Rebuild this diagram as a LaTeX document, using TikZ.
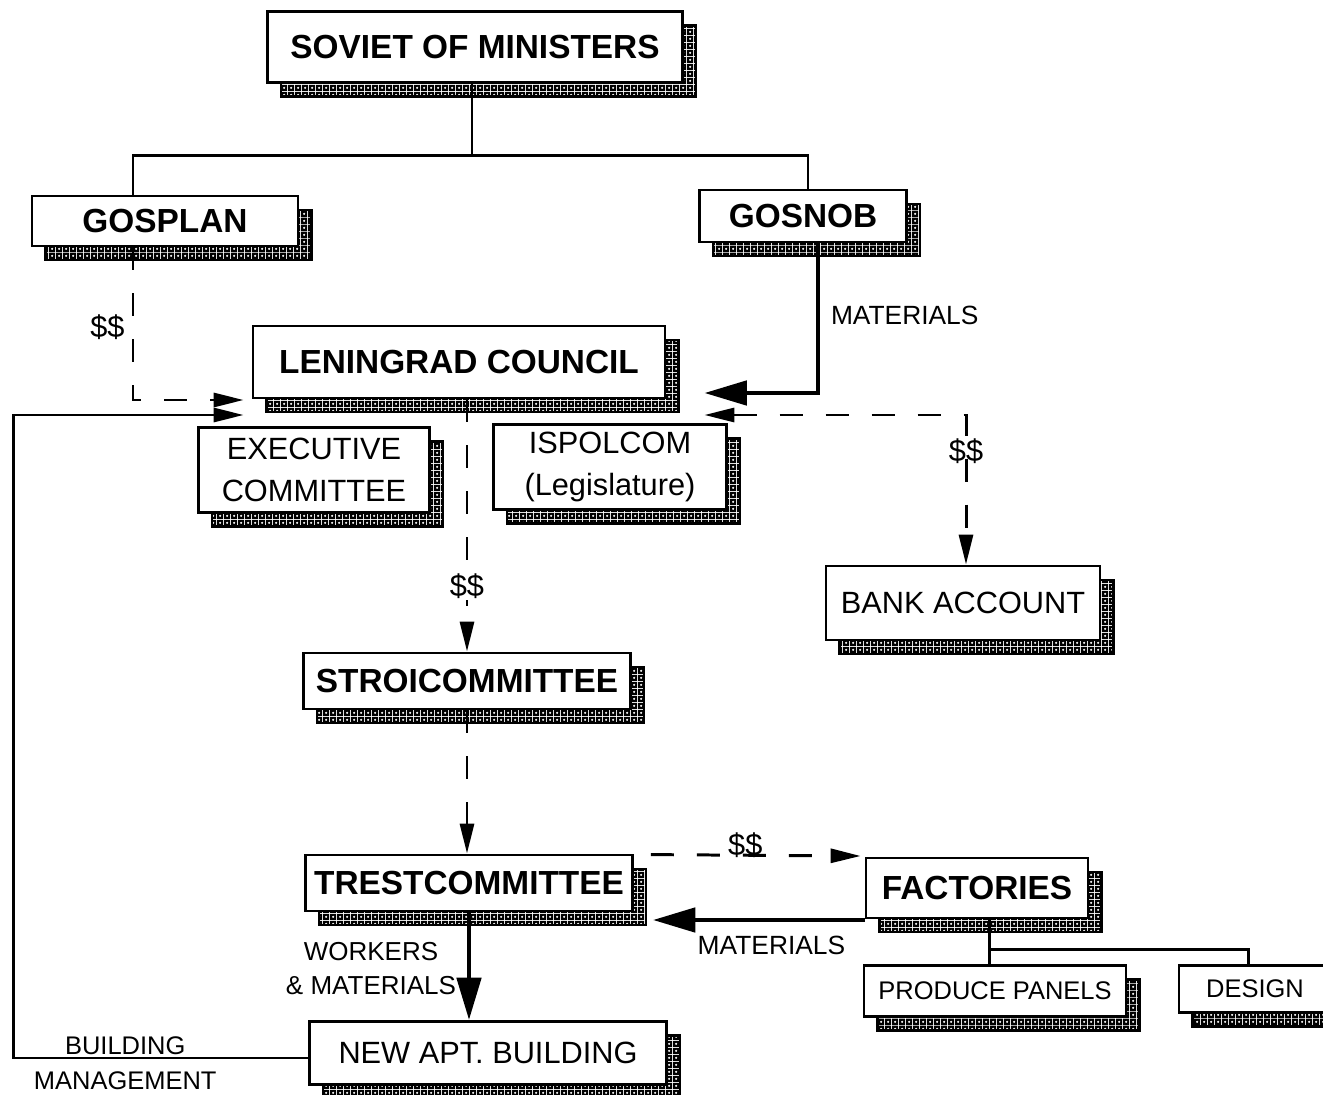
\documentclass[tikz,border=0pt]{standalone}
\usepackage{fontspec}
\setmainfont{Liberation Sans}
\usepackage{tikz}
\usetikzlibrary{positioning,calc,arrows.meta,shadows,patterns,backgrounds}

% diamond hatch for the box shadows
\pgfdeclarepatternformonly{diamond hatch}{\pgfpointorigin}{\pgfpoint{4pt}{4pt}}{\pgfpoint{4pt}{4pt}}{
    \pgfseteorule
    \pgfpathrectangle{\pgfpointorigin}{\pgfpoint{4pt}{4pt}}
    \pgfpathmoveto{\pgfpoint{2pt}{1.1pt}}
    \pgfpathlineto{\pgfpoint{2.9pt}{2pt}}
    \pgfpathlineto{\pgfpoint{2pt}{2.9pt}}
    \pgfpathlineto{\pgfpoint{1.1pt}{2pt}}
    \pgfpathclose
    \pgfusepath{fill}
}

\tikzset{
    orgbox/.style={draw, line width=1.6pt, fill=white, inner sep=0pt, align=center,
        general shadow={shadow xshift=0.27cm, shadow yshift=-0.28cm, draw, line width=1.2pt, pattern=diamond hatch}},
    headbox/.style={orgbox, font=\bfseries\fontsize{19}{22}\selectfont},
    unitbox/.style={orgbox, font=\fontsize{17.5}{24}\selectfont},
    smallbox/.style={orgbox, font=\fontsize{14.5}{17}\selectfont}
}

\begin{document}
\begin{tikzpicture}[
        x=0.02cm, y=-0.02cm,
        >={Triangle[length=0.6cm, width=0.28cm]},
        % Style for plain lines
        link/.style={line width=1.7pt},
        % Style for money flow: dashed
        money/.style={line width=1.7pt, dash pattern=on 0.46cm off 0.46cm, ->},
        % Style for material flow: heavy
        supply/.style={line width=2.8pt, -{Triangle[length=0.85cm, width=0.48cm]}},
        flowlabel/.style={font=\fontsize{14.5}{20}\selectfont, inner sep=2pt},
        cashlabel/.style={font=\fontsize{17.5}{20}\selectfont, inner sep=1pt}
    ]
    \useasboundingbox (0,0) rectangle (1323,1095);

    % --- BOXES ---
    \node[headbox, minimum width=8.3cm, minimum height=1.42cm] (soviet) at (475,47) {SOVIET OF MINISTERS};
    \node[headbox, minimum width=5.32cm, minimum height=1cm] (gosplan) at (165,221) {GOSPLAN};
    \node[headbox, minimum width=4.14cm, minimum height=1.04cm] (gosnob) at (803,216) {GOSNOB};
    \node[headbox, minimum width=8.24cm, minimum height=1.44cm] (lenin) at (459,362) {LENINGRAD COUNCIL};
    \node[unitbox, minimum width=4.62cm, minimum height=1.7cm] (exec) at (314,470) {EXECUTIVE\\COMMITTEE};
    \node[unitbox, minimum width=4.66cm, minimum height=1.7cm] (ispolcom) at (610,467) {ISPOLCOM\\(Legislature)};
    \node[unitbox, minimum width=5.48cm, minimum height=1.48cm] (bank) at (963,603) {BANK ACCOUNT};
    \node[headbox, minimum width=6.54cm, minimum height=1.12cm] (stroi) at (467,681) {STROICOMMITTEE};
    \node[headbox, minimum width=6.54cm, minimum height=1.12cm] (trest) at (469,883) {TRESTCOMMITTEE};
    \node[headbox, minimum width=4.44cm, minimum height=1.2cm] (factories) at (977,888) {FACTORIES};
    \node[smallbox, minimum width=5.24cm, minimum height=1.02cm] (panels) at (995,991) {PRODUCE PANELS};
    \node[smallbox, minimum width=3.04cm, minimum height=0.94cm] (design) at (1255,989) {DESIGN};
    \node[unitbox, minimum width=7.14cm, minimum height=1.26cm] (apt) at (488,1053) {NEW APT. BUILDING};

    % --- CONNECTORS ---
    \begin{scope}[on background layer]
        % Ministers down to Gosplan and Gosnob
        \coordinate (top split) at ([shift={(-3,72)}]soviet.south);
        \draw[link] (top split |- soviet.center) -- (top split);
        \draw[link] ([shift={(-32,0)}]gosplan.north) |- (top split) -| ([shift={(5,0)}]gosnob.north);

        % Gosplan: money to the council
        \draw[money] (gosplan.south) ++(-32,0) |- ([shift={(-8,38)}]lenin.west)
            node[cashlabel, pos=0.26, left=3pt] {\$\$};

        % Building management back to the council
        \draw[link, ->] ([shift={(0,5)}]apt.west) -- node[flowlabel, pos=0.62, above=-1pt] {BUILDING}
            node[flowlabel, pos=0.62, below=5pt] {MANAGEMENT} ++(-295,0)
            |- ([shift={(-8,53)}]lenin.west);

        % Gosnob: materials to the council
        \draw[supply] (gosnob.south) ++(15,0) |- ([shift={(38,31)}]lenin.east)
            node[flowlabel, pos=0.24, right=4pt, font=\fontsize{15}{18}\selectfont] {MATERIALS};

        % Council and bank account
        \draw[money, <->] ([shift={(38,53)}]lenin.east) -| ([shift={(3,0)}]bank.north)
            node[cashlabel, pos=0.62] {\$\$};

        % Council down the chain
        \draw[money] (lenin.south -| stroi.north) -- (stroi.north)
            node[cashlabel, pos=0.74, fill=white] {\$\$};
        \draw[money] (stroi.south) -- (stroi.south |- trest.north);

        % Trest and factories
        \draw[money] (trest.north east) ++(17,1) -- ([shift={(-4,-32)}]factories.west)
            node[cashlabel, pos=0.45, above=-3pt] {\$\$};
        \draw[supply] ([shift={(0,32)}]factories.west) -- ([shift={(19,37)}]trest.east)
            node[flowlabel, pos=0.44, below=6pt, font=\fontsize{15}{18}\selectfont] {MATERIALS};

        % Trest builds the new building
        \draw[supply] (trest.south) -- (trest.south |- apt.north)
            node[flowlabel, pos=0.52, left=4pt, align=center, font=\fontsize{14.8}{19}\selectfont] {WORKERS\\\& MATERIALS};

        % Factories branch
        \coordinate (fact split) at ([shift={(12,30)}]factories.south);
        \draw[link] (fact split |- factories.center) -- (fact split |- panels.north);
        \draw[link] (fact split) -| ([shift={(-7,0)}]design.north);
    \end{scope}

\end{tikzpicture}
\end{document}
